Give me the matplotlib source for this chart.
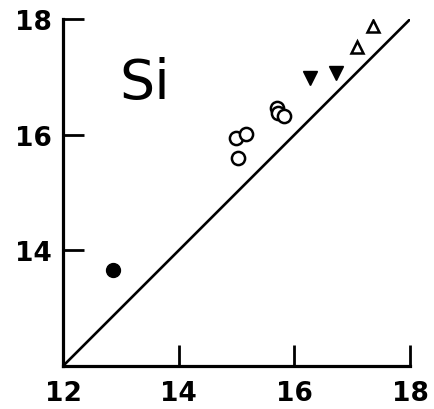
import matplotlib
matplotlib.use("Agg")
import matplotlib.pyplot as plt
import numpy as np

# measured values per group (x, y)
filled_circ_x = [12.87]
filled_circ_y = [13.66]
open_circ_x = [15.02, 14.99, 15.16, 15.69, 15.71, 15.81]
open_circ_y = [15.59, 15.94, 16.02, 16.46, 16.37, 16.33]
down_tri_x = [16.26, 16.71]
down_tri_y = [16.98, 17.06]
up_tri_x = [17.08, 17.35]
up_tri_y = [17.52, 17.88]

ticks = [12, 14, 16, 18]
y_ticks = [14, 16, 18]
label = "Si"

fig = plt.figure(figsize=(4.35, 4.10), dpi=100)
ax = fig.add_axes([0.145, 0.105, 0.798, 0.846])

# reference y = x line
ax.plot([12, 18], [12, 18], color="black", lw=1.9, solid_capstyle="butt")

ax.plot(filled_circ_x, filled_circ_y, "o", ms=10, color="black")
ax.plot(open_circ_x, open_circ_y, "o", ms=9.5, mfc="white", mec="black", mew=1.8)
ax.plot(down_tri_x, down_tri_y, "v", ms=9.5, color="black")
ax.plot(up_tri_x, up_tri_y, "^", ms=8.5, mfc="white", mec="black", mew=1.8)

ax.text(13.42, 16.9, label, fontsize=40, ha="center", va="center")

ax.set_xlim(12, 18)
ax.set_ylim(12, 18)
ax.set_xticks(ticks)
ax.set_yticks(y_ticks)
ax.set_xticklabels([str(t) for t in ticks], fontsize=19, fontweight="bold")
ax.set_yticklabels([str(t) for t in y_ticks], fontsize=19, fontweight="bold")
ax.tick_params(direction="in", length=15, width=2, pad=8)
ax.tick_params(axis="x", pad=10)
for s in ["top", "right"]:
    ax.spines[s].set_visible(False)
for s in ["left", "bottom"]:
    ax.spines[s].set_linewidth(2.3)

fig.savefig("out.png", dpi=100)
